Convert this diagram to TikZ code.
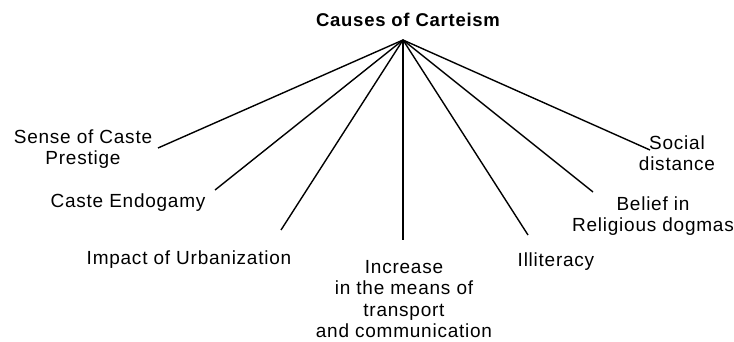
\documentclass[tikz,border=0pt]{standalone}
\usepackage{fontspec}
\setmainfont[LetterSpace=4]{Liberation Sans}
\begin{document}
\begin{tikzpicture}[x=1pt,y=-1pt,
  lbl/.style={inner sep=0pt,align=center,font=\fontsize{19}{21.5}\selectfont},
  spoke/.style={line width=1.4pt,black}]
\useasboundingbox (0,0) rectangle (734,342);
\node[inner sep=0pt,font=\fontsize{18.5}{22}\selectfont\bfseries] (title) at (408,20) {Causes of Carteism};
\coordinate (apex) at (403,40);
\coordinate (e1) at (158,148);
\coordinate (e2) at (215,190);
\coordinate (e3) at (281,230);
\coordinate (e4) at (403,240);
\coordinate (e5) at (528,235);
\coordinate (e6) at (593,192);
\coordinate (e7) at (650,150);
\node[lbl] (l1) at (83,149) {Sense of Caste\\Prestige};
\node[lbl] (l2) at (128,203) {Caste Endogamy};
\node[lbl] (l3) at (189,260) {Impact of Urbanization};
\node[lbl] (l4) at (404,299) {Increase\\in the means of\\transport\\and communication};
\node[lbl] (l5) at (556,262) {Illiteracy};
\node[lbl] (l6) at (653,216) {Belief in\\Religious dogmas};
\node[lbl] (l7) at (677,153) {Social\\distance};
\foreach \e in {e1,e2,e3,e4,e5,e6,e7}
  \draw[spoke] (apex) -- (\e);
\end{tikzpicture}
\end{document}
